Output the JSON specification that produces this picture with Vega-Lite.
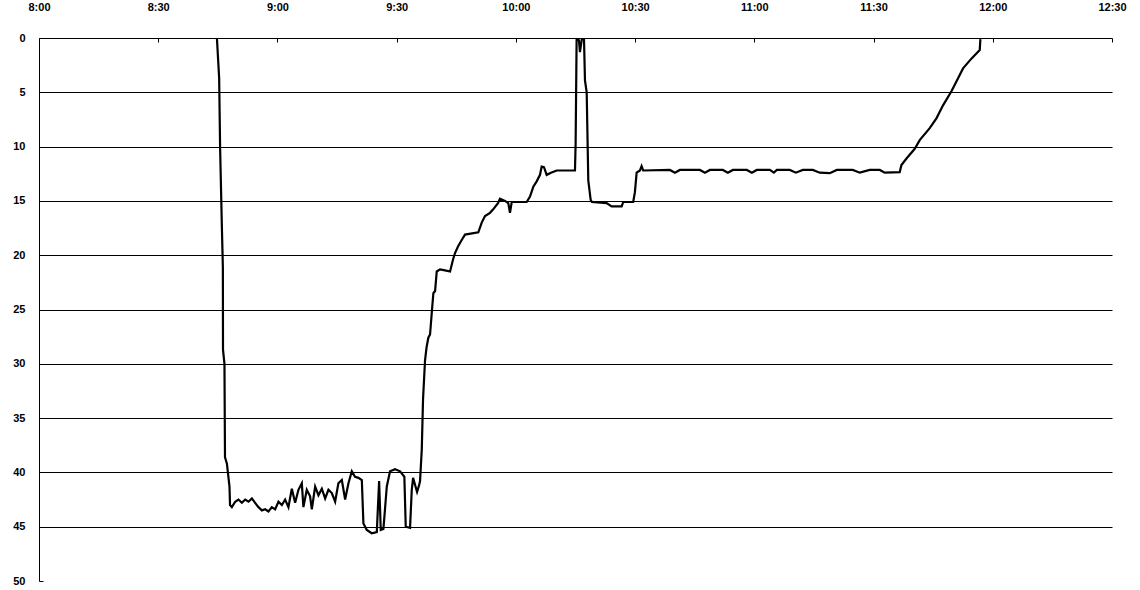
{
  "$schema": "https://vega.github.io/schema/vega-lite/v6.json",
  "width": 1073,
  "height": 543,
  "autosize": "none",
  "padding": {"left": 39, "top": 38, "right": 28, "bottom": 9},
  "background": "white",
  "config": {
    "view": {"stroke": null},
    "axis": {"labelFont": "Liberation Sans", "labelFontSize": 11, "labelFontWeight": "bold", "labelColor": "#000", "domainColor": "#000", "tickColor": "#000", "title": null}
  },
  "data": {
    "values": [
      {"t": "2024-01-01T08:43:50", "v": 0},
      {"t": "2024-01-01T08:44:46", "v": 0},
      {"t": "2024-01-01T08:45:20", "v": 3.7},
      {"t": "2024-01-01T08:45:35", "v": 10.3},
      {"t": "2024-01-01T08:46:01", "v": 17.4},
      {"t": "2024-01-01T08:46:16", "v": 21.1},
      {"t": "2024-01-01T08:46:18", "v": 28.7},
      {"t": "2024-01-01T08:46:40", "v": 30},
      {"t": "2024-01-01T08:46:48", "v": 38.6},
      {"t": "2024-01-01T08:47:17", "v": 39.2},
      {"t": "2024-01-01T08:47:56", "v": 41.3},
      {"t": "2024-01-01T08:48:04", "v": 43.0},
      {"t": "2024-01-01T08:48:32", "v": 43.2},
      {"t": "2024-01-01T08:49:22", "v": 42.7},
      {"t": "2024-01-01T08:50:11", "v": 42.5},
      {"t": "2024-01-01T08:51:03", "v": 42.8},
      {"t": "2024-01-01T08:51:53", "v": 42.5},
      {"t": "2024-01-01T08:52:43", "v": 42.7},
      {"t": "2024-01-01T08:53:34", "v": 42.4},
      {"t": "2024-01-01T08:54:23", "v": 42.8},
      {"t": "2024-01-01T08:55:13", "v": 43.2},
      {"t": "2024-01-01T08:56:05", "v": 43.5},
      {"t": "2024-01-01T08:56:55", "v": 43.4},
      {"t": "2024-01-01T08:57:44", "v": 43.6},
      {"t": "2024-01-01T08:58:35", "v": 43.2},
      {"t": "2024-01-01T08:59:25", "v": 43.4},
      {"t": "2024-01-01T09:00:15", "v": 42.7},
      {"t": "2024-01-01T09:01:07", "v": 43.0},
      {"t": "2024-01-01T09:01:56", "v": 42.5},
      {"t": "2024-01-01T09:02:46", "v": 43.2},
      {"t": "2024-01-01T09:03:37", "v": 41.5},
      {"t": "2024-01-01T09:04:27", "v": 42.8},
      {"t": "2024-01-01T09:05:17", "v": 41.6},
      {"t": "2024-01-01T09:06:08", "v": 41.0},
      {"t": "2024-01-01T09:06:32", "v": 43.2},
      {"t": "2024-01-01T09:07:23", "v": 41.6},
      {"t": "2024-01-01T09:08:13", "v": 42.2},
      {"t": "2024-01-01T09:08:39", "v": 43.4},
      {"t": "2024-01-01T09:09:29", "v": 41.3},
      {"t": "2024-01-01T09:10:19", "v": 42.1},
      {"t": "2024-01-01T09:11:10", "v": 41.5},
      {"t": "2024-01-01T09:12:00", "v": 42.4},
      {"t": "2024-01-01T09:12:50", "v": 41.6},
      {"t": "2024-01-01T09:13:41", "v": 41.9},
      {"t": "2024-01-01T09:14:31", "v": 42.7},
      {"t": "2024-01-01T09:15:20", "v": 41.0},
      {"t": "2024-01-01T09:16:12", "v": 40.7},
      {"t": "2024-01-01T09:17:02", "v": 42.5},
      {"t": "2024-01-01T09:17:52", "v": 41.0},
      {"t": "2024-01-01T09:18:43", "v": 39.9},
      {"t": "2024-01-01T09:19:32", "v": 40.4},
      {"t": "2024-01-01T09:20:22", "v": 40.5},
      {"t": "2024-01-01T09:21:14", "v": 40.7},
      {"t": "2024-01-01T09:21:38", "v": 44.7},
      {"t": "2024-01-01T09:22:29", "v": 45.3},
      {"t": "2024-01-01T09:23:44", "v": 45.6},
      {"t": "2024-01-01T09:25:00", "v": 45.5},
      {"t": "2024-01-01T09:25:35", "v": 40.8},
      {"t": "2024-01-01T09:26:00", "v": 45.3},
      {"t": "2024-01-01T09:26:40", "v": 45.2},
      {"t": "2024-01-01T09:27:31", "v": 41.3},
      {"t": "2024-01-01T09:28:20", "v": 39.9},
      {"t": "2024-01-01T09:29:36", "v": 39.7},
      {"t": "2024-01-01T09:30:52", "v": 39.9},
      {"t": "2024-01-01T09:31:56", "v": 40.4},
      {"t": "2024-01-01T09:32:17", "v": 45.0},
      {"t": "2024-01-01T09:33:22", "v": 45.1},
      {"t": "2024-01-01T09:33:48", "v": 41.6},
      {"t": "2024-01-01T09:34:08", "v": 40.5},
      {"t": "2024-01-01T09:35:08", "v": 41.8},
      {"t": "2024-01-01T09:35:38", "v": 41.2},
      {"t": "2024-01-01T09:35:53", "v": 40.8},
      {"t": "2024-01-01T09:36:19", "v": 37.9},
      {"t": "2024-01-01T09:36:38", "v": 33.3},
      {"t": "2024-01-01T09:37:08", "v": 29.7},
      {"t": "2024-01-01T09:37:31", "v": 28.5},
      {"t": "2024-01-01T09:37:58", "v": 27.6},
      {"t": "2024-01-01T09:38:24", "v": 27.3},
      {"t": "2024-01-01T09:38:50", "v": 25.3},
      {"t": "2024-01-01T09:39:14", "v": 23.5},
      {"t": "2024-01-01T09:39:40", "v": 23.3},
      {"t": "2024-01-01T09:40:05", "v": 21.5},
      {"t": "2024-01-01T09:40:55", "v": 21.3},
      {"t": "2024-01-01T09:42:10", "v": 21.4},
      {"t": "2024-01-01T09:43:26", "v": 21.5},
      {"t": "2024-01-01T09:44:11", "v": 20.4},
      {"t": "2024-01-01T09:44:41", "v": 19.8},
      {"t": "2024-01-01T09:45:26", "v": 19.2},
      {"t": "2024-01-01T09:46:22", "v": 18.6},
      {"t": "2024-01-01T09:47:12", "v": 18.1},
      {"t": "2024-01-01T09:50:33", "v": 17.9},
      {"t": "2024-01-01T09:51:24", "v": 17.0},
      {"t": "2024-01-01T09:52:14", "v": 16.4},
      {"t": "2024-01-01T09:53:29", "v": 16.1},
      {"t": "2024-01-01T09:54:14", "v": 15.8},
      {"t": "2024-01-01T09:55:30", "v": 15.2},
      {"t": "2024-01-01T09:56:00", "v": 14.8},
      {"t": "2024-01-01T09:57:16", "v": 15.0},
      {"t": "2024-01-01T09:58:05", "v": 15.2},
      {"t": "2024-01-01T09:58:31", "v": 16.1},
      {"t": "2024-01-01T09:58:57", "v": 15.1},
      {"t": "2024-01-01T10:02:43", "v": 15.1},
      {"t": "2024-01-01T10:03:33", "v": 14.6},
      {"t": "2024-01-01T10:04:23", "v": 13.7},
      {"t": "2024-01-01T10:05:14", "v": 13.2},
      {"t": "2024-01-01T10:06:04", "v": 12.6},
      {"t": "2024-01-01T10:06:29", "v": 11.85},
      {"t": "2024-01-01T10:07:04", "v": 11.9},
      {"t": "2024-01-01T10:07:45", "v": 12.6},
      {"t": "2024-01-01T10:08:50", "v": 12.4},
      {"t": "2024-01-01T10:10:16", "v": 12.2},
      {"t": "2024-01-01T10:14:52", "v": 12.2},
      {"t": "2024-01-01T10:15:02", "v": 9.7},
      {"t": "2024-01-01T10:15:17", "v": 0},
      {"t": "2024-01-01T10:15:52", "v": 0.2},
      {"t": "2024-01-01T10:16:07", "v": 1.3},
      {"t": "2024-01-01T10:16:38", "v": 0},
      {"t": "2024-01-01T10:17:08", "v": 0},
      {"t": "2024-01-01T10:17:23", "v": 3.9},
      {"t": "2024-01-01T10:17:49", "v": 5.0},
      {"t": "2024-01-01T10:18:13", "v": 13.1},
      {"t": "2024-01-01T10:18:49", "v": 14.9},
      {"t": "2024-01-01T10:19:08", "v": 15.1},
      {"t": "2024-01-01T10:22:50", "v": 15.2},
      {"t": "2024-01-01T10:24:05", "v": 15.5},
      {"t": "2024-01-01T10:26:37", "v": 15.5},
      {"t": "2024-01-01T10:27:01", "v": 15.1},
      {"t": "2024-01-01T10:29:31", "v": 15.1},
      {"t": "2024-01-01T10:29:57", "v": 14.2},
      {"t": "2024-01-01T10:30:23", "v": 12.4},
      {"t": "2024-01-01T10:31:13", "v": 12.2},
      {"t": "2024-01-01T10:31:38", "v": 11.8},
      {"t": "2024-01-01T10:32:02", "v": 12.2},
      {"t": "2024-01-01T10:38:45", "v": 12.15},
      {"t": "2024-01-01T10:40:01", "v": 12.4},
      {"t": "2024-01-01T10:41:16", "v": 12.15},
      {"t": "2024-01-01T10:46:18", "v": 12.15},
      {"t": "2024-01-01T10:47:34", "v": 12.4},
      {"t": "2024-01-01T10:48:49", "v": 12.15},
      {"t": "2024-01-01T10:52:05", "v": 12.15},
      {"t": "2024-01-01T10:53:20", "v": 12.4},
      {"t": "2024-01-01T10:54:36", "v": 12.15},
      {"t": "2024-01-01T10:58:07", "v": 12.15},
      {"t": "2024-01-01T10:59:22", "v": 12.4},
      {"t": "2024-01-01T11:00:38", "v": 12.15},
      {"t": "2024-01-01T11:03:54", "v": 12.15},
      {"t": "2024-01-01T11:04:55", "v": 12.4},
      {"t": "2024-01-01T11:05:40", "v": 12.15},
      {"t": "2024-01-01T11:08:56", "v": 12.15},
      {"t": "2024-01-01T11:10:26", "v": 12.4},
      {"t": "2024-01-01T11:12:12", "v": 12.15},
      {"t": "2024-01-01T11:14:43", "v": 12.15},
      {"t": "2024-01-01T11:16:28", "v": 12.4},
      {"t": "2024-01-01T11:18:59", "v": 12.45},
      {"t": "2024-01-01T11:20:45", "v": 12.15},
      {"t": "2024-01-01T11:24:46", "v": 12.15},
      {"t": "2024-01-01T11:26:32", "v": 12.4},
      {"t": "2024-01-01T11:29:03", "v": 12.15},
      {"t": "2024-01-01T11:31:34", "v": 12.15},
      {"t": "2024-01-01T11:32:49", "v": 12.4},
      {"t": "2024-01-01T11:36:35", "v": 12.35},
      {"t": "2024-01-01T11:37:01", "v": 11.7},
      {"t": "2024-01-01T11:38:17", "v": 11.1},
      {"t": "2024-01-01T11:40:22", "v": 10.2},
      {"t": "2024-01-01T11:41:37", "v": 9.4},
      {"t": "2024-01-01T11:44:08", "v": 8.3},
      {"t": "2024-01-01T11:45:49", "v": 7.4},
      {"t": "2024-01-01T11:47:29", "v": 6.2},
      {"t": "2024-01-01T11:49:36", "v": 4.9},
      {"t": "2024-01-01T11:50:51", "v": 4.0},
      {"t": "2024-01-01T11:52:31", "v": 2.8},
      {"t": "2024-01-01T11:54:37", "v": 1.9},
      {"t": "2024-01-01T11:56:43", "v": 1.1},
      {"t": "2024-01-01T11:56:53", "v": 0.1}
    ]
  },
  "mark": {"type": "line", "color": "#000", "strokeWidth": 2.2, "strokeJoin": "miter", "clip": true},
  "encoding": {
    "x": {
      "field": "t",
      "type": "temporal",
      "scale": {
        "domain": [
          {"year": 2024, "month": 1, "date": 1, "hours": 8, "minutes": 0},
          {"year": 2024, "month": 1, "date": 1, "hours": 12, "minutes": 30}
        ]
      },
      "axis": {
        "orient": "top",
        "format": "%-H:%M",
        "values": [
          {"year": 2024, "month": 1, "date": 1, "hours": 8, "minutes": 0},
          {"year": 2024, "month": 1, "date": 1, "hours": 8, "minutes": 30},
          {"year": 2024, "month": 1, "date": 1, "hours": 9, "minutes": 0},
          {"year": 2024, "month": 1, "date": 1, "hours": 9, "minutes": 30},
          {"year": 2024, "month": 1, "date": 1, "hours": 10, "minutes": 0},
          {"year": 2024, "month": 1, "date": 1, "hours": 10, "minutes": 30},
          {"year": 2024, "month": 1, "date": 1, "hours": 11, "minutes": 0},
          {"year": 2024, "month": 1, "date": 1, "hours": 11, "minutes": 30},
          {"year": 2024, "month": 1, "date": 1, "hours": 12, "minutes": 0},
          {"year": 2024, "month": 1, "date": 1, "hours": 12, "minutes": 30}
        ],
        "grid": false,
        "tickSize": -4,
        "labelPadding": 30,
        "labelAngle": 0,
        "labelFlush": false,
        "labelOverlap": false
      }
    },
    "y": {
      "field": "v",
      "type": "quantitative",
      "scale": {"domain": [0, 50], "reverse": true, "nice": false, "zero": false},
      "axis": {
        "values": [0, 5, 10, 15, 20, 25, 30, 35, 40, 45, 50],
        "grid": true,
        "gridColor": "#000",
        "gridWidth": 1,
        "gridOpacity": {"condition": {"test": "datum.value === 50 || datum.value === 0", "value": 0}, "value": 1},
        "tickSize": -4,
        "labelPadding": 18,
        "labelFlush": false,
        "labelOverlap": false
      }
    }
  }
}
